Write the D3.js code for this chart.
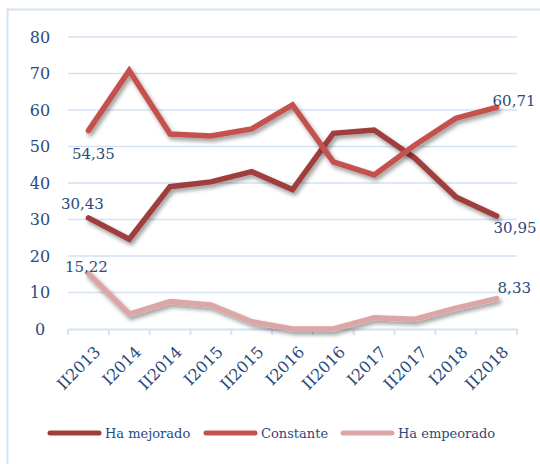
<!DOCTYPE html>
<html><head><meta charset="utf-8">
<script src="https://cdn.jsdelivr.net/npm/d3@7"></script>
<style>body{margin:0;background:#fff;}svg{display:block;}</style>
</head><body>
<script>
const categories = ["II2013","I2014","II2014","I2015","II2015","I2016","II2016","I2017","II2017","I2018","II2018"];
const mejorado  = [30.43, 24.6, 39.0, 40.3, 43.1, 38.2, 53.6, 54.5, 46.8, 36.2, 30.95];
const constante = [54.35, 70.8, 53.4, 52.9, 54.8, 61.4, 45.8, 42.2, 50.4, 57.7, 60.71];
const empeorado = [15.22, 4.1, 7.5, 6.6, 2.0, 0, 0, 3.1, 2.7, 5.7, 8.33];
const yTicks = [0,10,20,30,40,50,60,70,80];
const seriesNames = ["Ha mejorado","Constante","Ha empeorado"];
const seriesColors = ["#A03E3C","#C4514E","#DBA6A5"];

const W = 540, H = 464;
const svg = d3.select("body").append("svg").attr("width", W).attr("height", H);
const font = "'DejaVu Serif', serif";
const txtColor = "#2A4B7C";
const gridColor = "#D5E2F2";

const defs = svg.append("defs");
const f = defs.append("filter").attr("id","sh").attr("x","-10%").attr("y","-10%").attr("width","130%").attr("height","140%");
f.append("feDropShadow").attr("dx",2).attr("dy",3).attr("stdDeviation",2).attr("flood-color","#000").attr("flood-opacity",0.4);

// frame
svg.append("path").attr("d","M7.5,464 V9.5 H540").attr("fill","none").attr("stroke",gridColor).attr("stroke-width",2);

const x = d3.scaleBand().domain(categories).range([68, 517]);
const y = d3.scaleLinear().domain([0,80]).range([329, 37]);

// gridlines
svg.append("g").selectAll("line").data(yTicks.filter(d=>d>0)).join("line")
  .attr("x1",68).attr("x2",517).attr("y1",d=>y(d)).attr("y2",d=>y(d))
  .attr("stroke",gridColor).attr("stroke-width",1.5);

// y axis labels
const yAxis = svg.append("g").attr("transform","translate(46,0)")
  .call(d3.axisLeft(y).tickValues(yTicks).tickSize(0).tickPadding(0).tickFormat(d3.format("d")));
yAxis.select(".domain").remove();
yAxis.selectAll("text").attr("font-family",font).attr("font-size",16).attr("fill",txtColor).attr("text-anchor","middle").attr("x",-6);

// x axis
const xAxis = svg.append("g").attr("transform","translate(0,329)")
  .call(d3.axisBottom(x).tickSize(0).tickPadding(0));
xAxis.select(".domain").attr("stroke",gridColor).attr("stroke-width",2);
xAxis.selectAll("text").attr("font-family",font).attr("font-size",16).attr("fill",txtColor)
  .attr("text-anchor","end").attr("transform","translate(9,20) rotate(-45)").attr("dy","0.35em");
// boundary ticks
const bounds = categories.map(c=>x(c)).concat([x.range()[1]]);
svg.append("g").selectAll("line").data(bounds).join("line")
  .attr("x1",d=>d).attr("x2",d=>d).attr("y1",329).attr("y2",335)
  .attr("stroke",gridColor).attr("stroke-width",2);

const cx = c => x(c) + x.bandwidth()/2;
const line = d3.line().x((d,i)=>cx(categories[i])).y(d=>y(d));
const allSeries = [mejorado, constante, empeorado];
[2,0,1].forEach(k=>{
  svg.append("path").datum(allSeries[k]).attr("d",line).attr("fill","none")
    .attr("stroke",seriesColors[k]).attr("stroke-width",5.5).attr("stroke-linejoin","miter")
    .attr("stroke-linecap","round").attr("filter","url(#sh)");
});

// data labels
const fmt = v => d3.format(".2f")(v).replace(".",",");
const last = categories.length-1;
const labels = [
  {v: constante[0], x: cx(categories[0]) + 5, y: y(constante[0]) + 23, a:"middle"},
  {v: mejorado[0], x: cx(categories[0]) - 6, y: y(mejorado[0]) - 14, a:"middle"},
  {v: empeorado[0], x: cx(categories[0]) - 2, y: y(empeorado[0]) - 7, a:"middle"},
  {v: constante[last], x: cx(categories[last]) - 4, y: y(constante[last]) - 7, a:"start"},
  {v: mejorado[last], x: cx(categories[last]) - 3, y: y(mejorado[last]) + 12, a:"start"},
  {v: empeorado[last], x: cx(categories[last]) + 1, y: y(empeorado[last]) - 11, a:"start"}
];
svg.append("g").selectAll("text").data(labels).join("text")
  .attr("x",d=>d.x).attr("y",d=>d.y).attr("text-anchor",d=>d.a).attr("dy","0.35em")
  .attr("font-family",font).attr("font-size",15).attr("fill",txtColor).text(d=>fmt(d.v));

// legend
const legX = [48, 204, 341];
const lg = svg.append("g");
seriesNames.forEach((n,i)=>{
  lg.append("line").attr("x1",legX[i]+2).attr("x2",legX[i]+51).attr("y1",433).attr("y2",433)
    .attr("stroke",seriesColors[i]).attr("stroke-width",5).attr("stroke-linecap","round");
  lg.append("text").attr("x",legX[i]+57).attr("y",433).attr("dy","0.35em")
    .attr("font-family",font).attr("font-size",13).attr("fill",txtColor).text(n);
});
</script>
</body></html>
